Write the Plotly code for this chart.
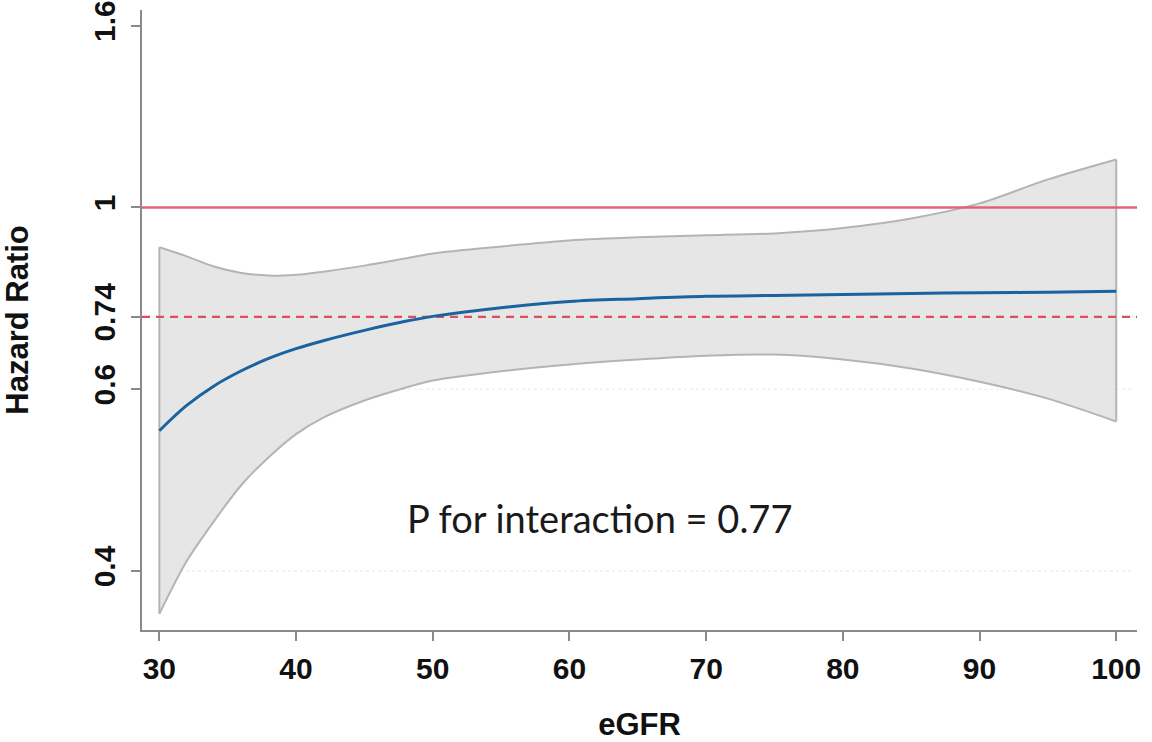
import math
import plotly.graph_objects as go

# ---- data ----
egfr = [30, 32, 34, 36, 38, 40, 42, 45, 48, 50, 55, 60, 65, 70, 75, 80, 85, 90, 95, 100]
hr = [0.541, 0.580, 0.612, 0.638, 0.660, 0.678, 0.693, 0.713, 0.731, 0.741, 0.759, 0.772,
      0.778, 0.783, 0.785, 0.787, 0.789, 0.791, 0.792, 0.794]
hr_upper = [0.896, 0.874, 0.850, 0.835, 0.829, 0.831, 0.838, 0.852, 0.869, 0.881, 0.898, 0.913,
            0.921, 0.926, 0.931, 0.945, 0.970, 1.011, 1.080, 1.141]
hr_lower = [0.327, 0.378, 0.422, 0.466, 0.503, 0.536, 0.561, 0.588, 0.609, 0.621, 0.637, 0.649,
            0.658, 0.665, 0.667, 0.658, 0.642, 0.619, 0.591, 0.555]

ref_null = 1.0
ref_overall = 0.74

y_tickvals = [math.exp(-1), math.exp(-0.5), 0.74, 1.0, math.exp(0.5)]
y_ticktext = ["0.4", "0.6", "0.74", "1", "1.6"]
x_tickvals = [30, 40, 50, 60, 70, 80, 90, 100]

x_range = [28.73, 101.52]
y_range_ln = [-1.1624, 0.5429]
grid_vals = [math.exp(-1), math.exp(-0.5)]

LN10 = math.log(10)
BAND_FILL = "#e6e6e6"
BAND_EDGE = "#b4b4b4"

fig = go.Figure()

# confidence band: lower bound, then upper bound filled down to it
fig.add_trace(go.Scatter(x=egfr, y=hr_lower, mode="lines",
                         line=dict(color=BAND_EDGE, width=2, shape="spline", smoothing=0.8),
                         hoverinfo="skip", showlegend=False))
fig.add_trace(go.Scatter(x=egfr, y=hr_upper, mode="lines", fill="tonexty", fillcolor=BAND_FILL,
                         line=dict(color=BAND_EDGE, width=2, shape="spline", smoothing=0.8),
                         hoverinfo="skip", showlegend=False))
# closing vertical edges of the band
for i in (0, -1):
    fig.add_trace(go.Scatter(x=[egfr[i], egfr[i]], y=[hr_lower[i], hr_upper[i]], mode="lines",
                             line=dict(color=BAND_EDGE, width=2), hoverinfo="skip", showlegend=False))

# reference lines
fig.add_trace(go.Scatter(x=x_range, y=[ref_null, ref_null], mode="lines",
                         line=dict(color="#dd6478", width=2.5), showlegend=False))
fig.add_trace(go.Scatter(x=x_range, y=[ref_overall, ref_overall], mode="lines",
                         line=dict(color="#d9505c", width=2.2, dash="8px,6px"), showlegend=False))

# spline estimate
fig.add_trace(go.Scatter(x=egfr, y=hr, mode="lines", line=dict(color="#1b63a0", width=3, shape="spline"),
                         showlegend=False))

for g in grid_vals:
    fig.add_shape(type="line", xref="paper", x0=0.02, x1=0.995, yref="y", y0=g, y1=g,
                  line=dict(color="#d8eeee", width=1, dash="dot"), layer="below")

fig.add_annotation(x=0.46, xref="paper", y=-0.855 / LN10, yref="y",
                   text="P for interaction = 0.77", showarrow=False,
                   font=dict(family="Lato, Open Sans, sans-serif", size=38, color="#1a1a1a"))

tick_font = dict(family="Liberation Sans, Arial, sans-serif", size=30, color="#111111", weight="bold")
title_font = dict(family="Liberation Sans, Arial, sans-serif", size=31, color="#111111", weight="bold")

fig.update_layout(
    width=1152, height=742,
    margin=dict(l=142, r=15, t=10, b=112),
    paper_bgcolor="white", plot_bgcolor="white",
    xaxis=dict(range=x_range, tickvals=x_tickvals, ticks="outside", ticklen=9, tickwidth=2,
               tickcolor="#8a8a8a", showline=True, linecolor="#8a8a8a", linewidth=2,
               showgrid=False, zeroline=False, tickfont=tick_font, ticklabelstandoff=2,
               automargin=False,
               title=dict(text="eGFR", font=title_font, standoff=30)),
    yaxis=dict(type="log", range=[v / LN10 for v in y_range_ln],
               tickvals=y_tickvals, ticktext=y_ticktext, tickangle=-90,
               ticks="outside", ticklen=9, tickwidth=2, tickcolor="#8a8a8a",
               showline=True, linecolor="#8a8a8a", linewidth=2,
               showgrid=False, zeroline=False, tickfont=tick_font, ticklabelstandoff=4,
               ticklabeloverflow="allow", automargin=False,
               title=dict(text="Hazard Ratio", font=title_font, standoff=54)),
)

fig.write_html("out.html", config={"displayModeBar": False},
               post_script="document.body.style.margin='0';document.body.style.overflow='hidden';")
